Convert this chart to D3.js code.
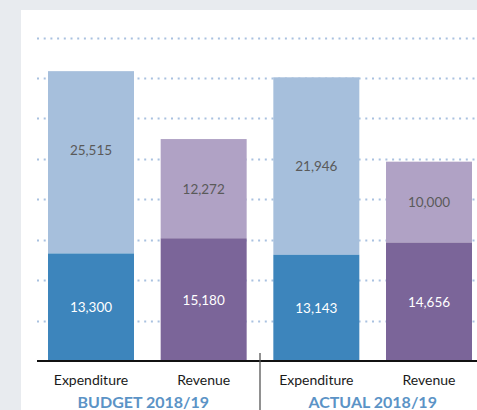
<!DOCTYPE html>
<html>
<head>
<meta charset="utf-8">
<script src="https://cdn.jsdelivr.net/npm/d3@7"></script>
<style>
  html, body { margin: 0; padding: 0; background: #e8ebef; }
  svg { display: block; }
</style>
</head>
<body>
<svg id="chart" width="477" height="410"></svg>
<script>
// ---- data ----
const groups = ["BUDGET 2018/19", "ACTUAL 2018/19"];
const categories = ["Expenditure", "Revenue", "Expenditure", "Revenue"];
const barIds = ["b-exp", "b-rev", "a-exp", "a-rev"];
const barGroup = [0, 0, 1, 1];
const lowerValues = [13300, 15180, 13143, 14656];
const upperValues = [25515, 12272, 21946, 10000];
// height at which the upper segment is drawn in the reference (budget expenditure is cut short)
const upperDrawn = [22550, 12272, 21946, 10000];
const tickValues = [5000, 10000, 15000, 20000, 25000, 30000, 35000, 40000];
const lowerColors = ["#3d85bc", "#7b6599", "#3d85bc", "#7b6599"];
const upperColors = ["#a6bfdc", "#b0a2c5", "#a6bfdc", "#b0a2c5"];

const fmt = d3.format(",");
const svg = d3.select("#chart");

// white panel
svg.append("rect").attr("x", 21).attr("y", 10).attr("width", 456).attr("height", 400).attr("fill", "#ffffff");

const y = d3.scaleLinear().domain([0, 40000]).range([361, 37.6]);
const x = d3.scaleBand().domain(barIds).range([48, 472]).paddingInner(0.2367).paddingOuter(0);

// dotted grid
svg.append("g").selectAll("line").data(tickValues).join("line")
  .attr("x1", 37).attr("x2", 477)
  .attr("y1", d => Math.round(y(d)) + 0.5).attr("y2", d => Math.round(y(d)) + 0.5)
  .attr("stroke", "#a9c1e0").attr("stroke-width", 2)
  .attr("stroke-dasharray", "2,4.7");

// bars
const bars = svg.append("g");
barIds.forEach((id, i) => {
  const x0 = x(id), w = x.bandwidth();
  const lowTop = y(lowerValues[i]);
  const upTop = y(lowerValues[i] + upperDrawn[i]);
  bars.append("rect").attr("x", x0).attr("width", w)
    .attr("y", upTop).attr("height", lowTop - upTop).attr("fill", upperColors[i]);
  bars.append("rect").attr("x", x0).attr("width", w)
    .attr("y", lowTop).attr("height", y(0) - lowTop).attr("fill", lowerColors[i]);
  // labels centered on true segment
  const cx = x0 + w / 2;
  const trueTop = y(lowerValues[i] + upperValues[i]);
  svg.append("text").attr("x", cx).attr("y", (trueTop + lowTop) / 2)
    .attr("text-anchor", "middle").attr("dominant-baseline", "central")
    .attr("font-family", "Lato, sans-serif").attr("font-weight", 400).attr("font-size", 13.5)
    .attr("fill", "#5a5a5a").text(fmt(upperValues[i]));
  svg.append("text").attr("x", cx).attr("y", (lowTop + y(0)) / 2)
    .attr("text-anchor", "middle").attr("dominant-baseline", "central")
    .attr("font-family", "Lato, sans-serif").attr("font-weight", 400).attr("font-size", 13.5)
    .attr("fill", "#ffffff").text(fmt(lowerValues[i]));
  // category label
  svg.append("text").attr("x", cx).attr("y", 379)
    .attr("text-anchor", "middle").attr("dominant-baseline", "central")
    .attr("font-family", "Lato, sans-serif").attr("font-size", 14)
    .attr("fill", "#1a1a1a").text(categories[i]);
});

// baseline
svg.append("line").attr("x1", 37).attr("x2", 477).attr("y1", y(0)).attr("y2", y(0))
  .attr("stroke", "#111").attr("stroke-width", 2);

// divider
const divX = (x(barIds[1]) + x.bandwidth() + x(barIds[2])) / 2;
svg.append("line").attr("x1", divX).attr("x2", divX).attr("y1", 353).attr("y2", 410)
  .attr("stroke", "#555").attr("stroke-width", 1.3);

// group labels
groups.forEach((g, gi) => {
  const ids = barIds.filter((d, i) => barGroup[i] === gi);
  const gx = (x(ids[0]) + x(ids[ids.length - 1]) + x.bandwidth()) / 2;
  svg.append("text").attr("x", gx - (gi === 0 ? 4 : 0)).attr("y", 401)
    .attr("text-anchor", "middle").attr("dominant-baseline", "central")
    .attr("font-family", "Lato, sans-serif").attr("font-weight", 700).attr("font-size", 16)
    .attr("fill", "#5b93c6").text(g);
});
</script>
</body>
</html>
